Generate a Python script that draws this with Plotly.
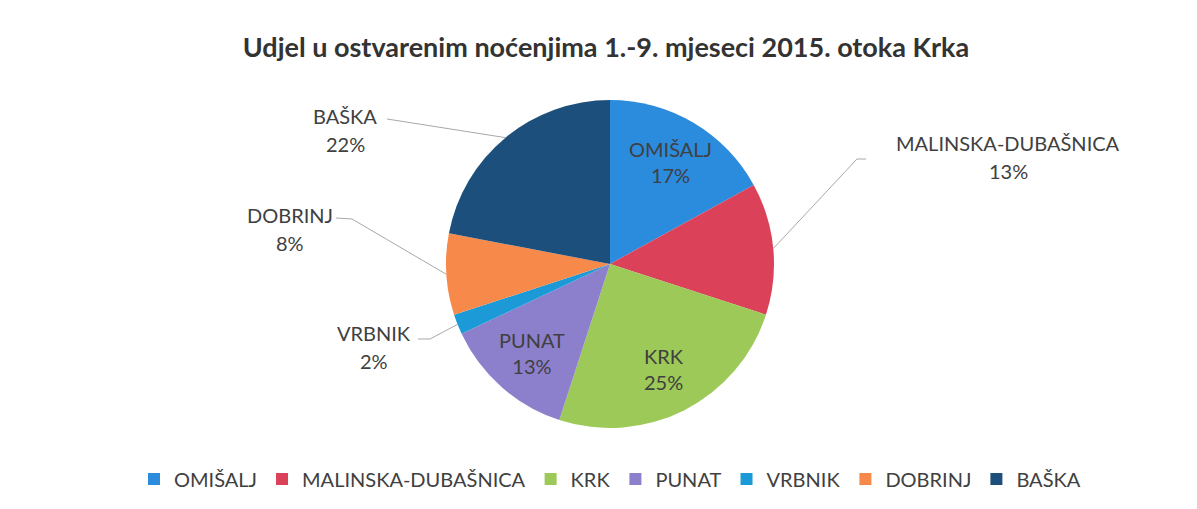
import math
import plotly.graph_objects as go

# ---- data ----
labels = ["OMIŠALJ", "MALINSKA-DUBAŠNICA", "KRK", "PUNAT", "VRBNIK", "DOBRINJ", "BAŠKA"]
values = [17, 13, 25, 13, 2, 8, 22]
colors = ["#2B8BDD", "#DB4259", "#9CC957", "#8C7FCC", "#1C9AD8", "#F78A4B", "#1D4F7C"]
inside = [True, False, True, True, False, False, False]
title = "Udjel u ostvarenim noćenjima 1.-9. mjeseci 2015. otoka Krka"

# page offset (body margin) and figure size
OFF = 8
W, H = 1197 - 2 * OFF, 509 - 2 * OFF
FONT = "Lato"
TXT = "#404040"


def px(x, y):
    """screen pixel -> paper coords"""
    return (x - OFF) / W, (H - (y - OFF)) / H


# pie geometry (screen pixels)
cx, cy, R = 610, 264, 164
x0, y0 = px(cx - R, cy + R)
x1, y1 = px(cx + R, cy - R)

total = sum(values)

fig = go.Figure(go.Pie(
    labels=labels, values=values, sort=False, direction="clockwise", rotation=0,
    marker=dict(colors=colors, line=dict(width=0)),
    textinfo="none",
    domain=dict(x=[x0, x1], y=[y0, y1]),
    hoverinfo="label+percent",
))

# outside labels: label centre positions (px) and leader line start/elbow (px)
outside = {
    "BAŠKA": dict(pos=(345, 116), path=[(387, 119)]),
    "DOBRINJ": dict(pos=(290, 215), path=[(336, 218), (352, 219)]),
    "VRBNIK": dict(pos=(374, 333), path=[(418, 339), (430, 339)]),
    "MALINSKA-DUBAŠNICA": dict(pos=(1008, 143), path=[(866, 159), (857, 159)]),
}

annotations = []
shapes = []
cum = 0
for l, v, ins in zip(labels, values, inside):
    mid = (cum + v / 2) / total * 2 * math.pi
    cum += v
    pct = f"{round(v / total * 100)}%"
    if ins:
        x = cx + 0.72 * R * math.sin(mid)
        y = cy - 0.72 * R * math.cos(mid)
        ax, ay = px(x, y)
        annotations.append(dict(x=ax, y=ay, xref="paper", yref="paper",
                                text=f"{l}<br>{pct}", showarrow=False,
                                xanchor="center", yanchor="middle",
                                font=dict(family=FONT, size=20, color=TXT)))
        continue
    o = outside[l]
    x, y = o["pos"]
    ax, ay = px(x, y)
    annotations.append(dict(x=ax, y=ay, xref="paper", yref="paper", text=l, showarrow=False,
                            xanchor="center", yanchor="middle",
                            font=dict(family=FONT, size=20, color=TXT)))
    bx, by = px(x, y + 28)
    annotations.append(dict(x=bx, y=by, xref="paper", yref="paper",
                            text=pct, showarrow=False,
                            xanchor="center", yanchor="middle",
                            font=dict(family=FONT, size=20, color=TXT)))
    ex = cx + R * math.sin(mid)
    ey = cy - R * math.cos(mid)
    pts = o["path"] + [(ex, ey)]
    ppts = [px(a, b) for a, b in pts]
    d = "M " + " L ".join(f"{a:.5f},{b:.5f}" for a, b in ppts)
    shapes.append(dict(type="path", path=d, xref="paper", yref="paper",
                       line=dict(color="#a8a8a8", width=1)))

tx, ty = px(606, 48)
lx, ly = px(610, 479)
fig.update_layout(
    width=W, height=H,
    margin=dict(l=0, r=0, t=0, b=0),
    paper_bgcolor="white", plot_bgcolor="white",
    font=dict(family=FONT, color=TXT),
    title=dict(text=f"<b>{title}</b>", x=tx, xanchor="center", y=ty, yanchor="middle",
               font=dict(family=FONT, size=27, color="#333333")),
    showlegend=True,
    legend=dict(orientation="h", x=lx, xanchor="center", y=ly, yanchor="middle",
                font=dict(family=FONT, size=20, color=TXT), traceorder="normal",
                itemwidth=30),
    annotations=annotations,
    shapes=shapes,
)

fig.write_html("out.html")
